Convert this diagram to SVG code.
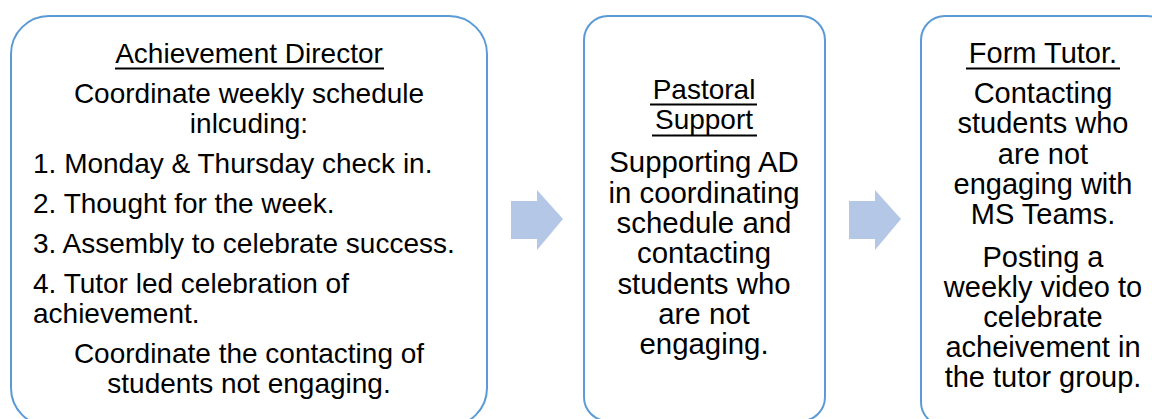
<svg xmlns="http://www.w3.org/2000/svg" width="1152" height="419" viewBox="0 0 1152 419">
<style>
.box{fill:#fff;stroke:#5b9bd5;stroke-width:2}
.t{font-family:"Liberation Sans",Arial,sans-serif;font-size:28px;fill:#000}
.b2{font-size:29.4px}
.b3{font-size:29px}
.c{text-anchor:middle}
.u{stroke:#000;stroke-width:2}
.arr{fill:#b4c7e7}
</style>
<rect width="1152" height="419" fill="#fff"/>
<g id="connectors">
<polygon class="arr" points="511,201 537,201 537,190 563,219 537,250 537,239 511,239"/>
<polygon class="arr" points="849,201 875,201 875,190 901,219 875,250 875,239 849,239"/>
</g>
<g id="node-achievement-director">
<rect class="box" x="11" y="16" width="476" height="410" rx="38" ry="38"/>
<text class="t c" x="249" y="63">Achievement Director</text>
<line class="u" x1="115" y1="68.5" x2="384" y2="68.5"/>
<text class="t c" x="249" y="103">Coordinate weekly schedule</text>
<text class="t c" x="249" y="133">inlcuding:</text>
<text class="t" x="33" y="173">1. Monday &amp; Thursday check in.</text>
<text class="t" x="33" y="213">2. Thought for the week.</text>
<text class="t" x="33" y="253">3. Assembly to celebrate success.</text>
<text class="t" x="33" y="293">4. Tutor led celebration of</text>
<text class="t" x="33" y="323">achievement.</text>
<text class="t c" x="249" y="363">Coordinate the contacting of</text>
<text class="t c" x="249" y="393">students not engaging.</text>
</g>
<g id="node-pastoral-support">
<rect class="box" x="584" y="16" width="241" height="405" rx="24" ry="24"/>
<text class="t c" x="704" y="99">Pastoral</text>
<line class="u" x1="650" y1="104.5" x2="757" y2="104.5"/>
<text class="t c" x="704" y="128.5">Support</text>
<line class="u" x1="652" y1="135.5" x2="757" y2="135.5"/>
<text class="t b2 c" x="704" y="172">Supporting AD</text>
<text class="t b2 c" x="704" y="203">in coordinating</text>
<text class="t b2 c" x="704" y="233">schedule and</text>
<text class="t b2 c" x="704" y="263">contacting</text>
<text class="t b2 c" x="704" y="294">students who</text>
<text class="t b2 c" x="704" y="324">are not</text>
<text class="t b2 c" x="704" y="354">engaging.</text>
</g>
<g id="node-form-tutor">
<rect class="box" x="921" y="16" width="250" height="410" rx="24" ry="24"/>
<text class="t b3 c" x="1043" y="63">Form Tutor.</text>
<line class="u" x1="966" y1="68.5" x2="1120" y2="68.5"/>
<text class="t b3 c" x="1043" y="103">Contacting</text>
<text class="t b3 c" x="1043" y="133">students who</text>
<text class="t b3 c" x="1043" y="164">are not</text>
<text class="t b3 c" x="1043" y="194">engaging with</text>
<text class="t b3 c" x="1043" y="224">MS Teams.</text>
<text class="t b3 c" x="1043" y="267">Posting a</text>
<text class="t b3 c" x="1043" y="297">weekly video to</text>
<text class="t b3 c" x="1043" y="327">celebrate</text>
<text class="t b3 c" x="1043" y="357">acheivement in</text>
<text class="t b3 c" x="1043" y="387">the tutor group.</text>
</g>
</svg>
